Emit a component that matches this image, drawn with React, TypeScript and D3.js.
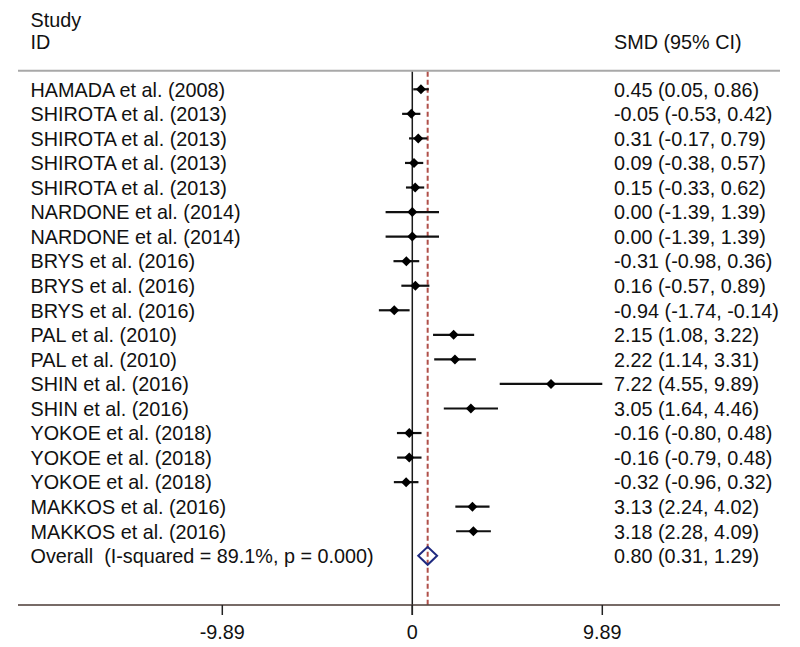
import React from "react";
import * as d3 from "d3";

const studies = [
  "HAMADA et al. (2008)",
  "SHIROTA et al. (2013)",
  "SHIROTA et al. (2013)",
  "SHIROTA et al. (2013)",
  "SHIROTA et al. (2013)",
  "NARDONE et al. (2014)",
  "NARDONE et al. (2014)",
  "BRYS et al. (2016)",
  "BRYS et al. (2016)",
  "BRYS et al. (2016)",
  "PAL et al. (2010)",
  "PAL et al. (2010)",
  "SHIN et al. (2016)",
  "SHIN et al. (2016)",
  "YOKOE et al. (2018)",
  "YOKOE et al. (2018)",
  "YOKOE et al. (2018)",
  "MAKKOS et al. (2016)",
  "MAKKOS et al. (2016)",
];
const smd = [0.45, -0.05, 0.31, 0.09, 0.15, 0.0, 0.0, -0.31, 0.16, -0.94, 2.15, 2.22, 7.22, 3.05, -0.16, -0.16, -0.32, 3.13, 3.18];
const lower = [0.05, -0.53, -0.17, -0.38, -0.33, -1.39, -1.39, -0.98, -0.57, -1.74, 1.08, 1.14, 4.55, 1.64, -0.8, -0.79, -0.96, 2.24, 2.28];
const upper = [0.86, 0.42, 0.79, 0.57, 0.62, 1.39, 1.39, 0.36, 0.89, -0.14, 3.22, 3.31, 9.89, 4.46, 0.48, 0.48, 0.32, 4.02, 4.09];
const overallLabel = "Overall  (I-squared = 89.1%, p = 0.000)";
const overall = { est: 0.8, lo: 0.31, hi: 1.29 };
const tickValues = [-9.89, 0, 9.89];
const tickLabels = ["-9.89", "0", "9.89"];

const W = 800;
const H = 647;
const FONT = "'Liberation Sans', Arial, Helvetica, sans-serif";
const FS = 19.8;

export default function App() {
  const x = d3.scaleLinear().domain([-9.89, 9.89]).range([222.3, 602.3]);
  const nRows = studies.length + 1;
  const y = d3
    .scaleLinear()
    .domain([0, nRows - 1])
    .range([89.3, 555.8]);
  const fmt = (v: number) => v.toFixed(2);
  const ciText = (e: number, l: number, h: number) => `${fmt(e)} (${fmt(l)}, ${fmt(h)})`;

  const axisY = 605;
  const headerY = 70.7;
  const leftX = 18;
  const rightX = 780;
  const labelX = 30.5;
  const ciX = 614;
  const baseOff = 7.3;
  const m = 5;
  const dh = 9;
  const txt = { fontSize: FS, fill: "#111", style: { whiteSpace: "pre" as const } };

  return (
    <svg
      width={W}
      height={H}
      style={{ position: "absolute", left: 0, top: 0, background: "#fff" }}
      fontFamily={FONT}
    >
      <rect x={0} y={0} width={W} height={H} fill="#fff" />
      <text x={labelX} y={26.5} {...txt}>Study</text>
      <text x={labelX} y={48.5} {...txt}>ID</text>
      <text x={ciX} y={48.5} {...txt}>SMD (95% CI)</text>
      <line x1={leftX} x2={rightX} y1={headerY} y2={headerY} stroke="#a8a8a8" strokeWidth={2} />

      {/* zero line */}
      <line x1={x(0)} x2={x(0)} y1={headerY + 1} y2={axisY + 10} stroke="#1a1a1a" strokeWidth={1.5} />
      {/* overall dashed line */}
      <line
        x1={x(overall.est)}
        x2={x(overall.est)}
        y1={headerY + 1}
        y2={axisY}
        stroke="#b0504a"
        strokeWidth={2}
        strokeDasharray="5 3"
      />

      {studies.map((s, i) => {
        const cy = y(i);
        const cx = x(smd[i]);
        return (
          <g key={i}>
            <text x={labelX} y={cy + baseOff} {...txt}>{s}</text>
            <text x={ciX} y={cy + baseOff} {...txt}>{ciText(smd[i], lower[i], upper[i])}</text>
            <line x1={x(lower[i])} x2={x(upper[i])} y1={cy} y2={cy} stroke="#111" strokeWidth={2.2} />
            <path d={`M${cx - m},${cy} L${cx},${cy - m} L${cx + m},${cy} L${cx},${cy + m} Z`} fill="#000" />
          </g>
        );
      })}

      {(() => {
        const cy = y(nRows - 1);
        return (
          <g>
            <text x={labelX} y={cy + baseOff} {...txt} xmlSpace="preserve">{overallLabel}</text>
            <text x={ciX} y={cy + baseOff} {...txt}>{ciText(overall.est, overall.lo, overall.hi)}</text>
            <path
              d={`M${x(overall.lo)},${cy} L${x(overall.est)},${cy - dh} L${x(overall.hi)},${cy} L${x(overall.est)},${cy + dh} Z`}
              fill="none"
              stroke="#1f2a80"
              strokeWidth={2}
            />
          </g>
        );
      })()}

      {/* axis */}
      <line x1={leftX} x2={rightX} y1={axisY} y2={axisY} stroke="#4a3a35" strokeWidth={1.6} />
      {tickValues.map((t, i) => (
        <g key={i}>
          <line x1={x(t)} x2={x(t)} y1={axisY} y2={axisY + 10} stroke="#222" strokeWidth={1.5} />
          <text x={x(t)} y={638.5} fontSize={FS} textAnchor="middle" fill="#111">{tickLabels[i]}</text>
        </g>
      ))}
    </svg>
  );
}
